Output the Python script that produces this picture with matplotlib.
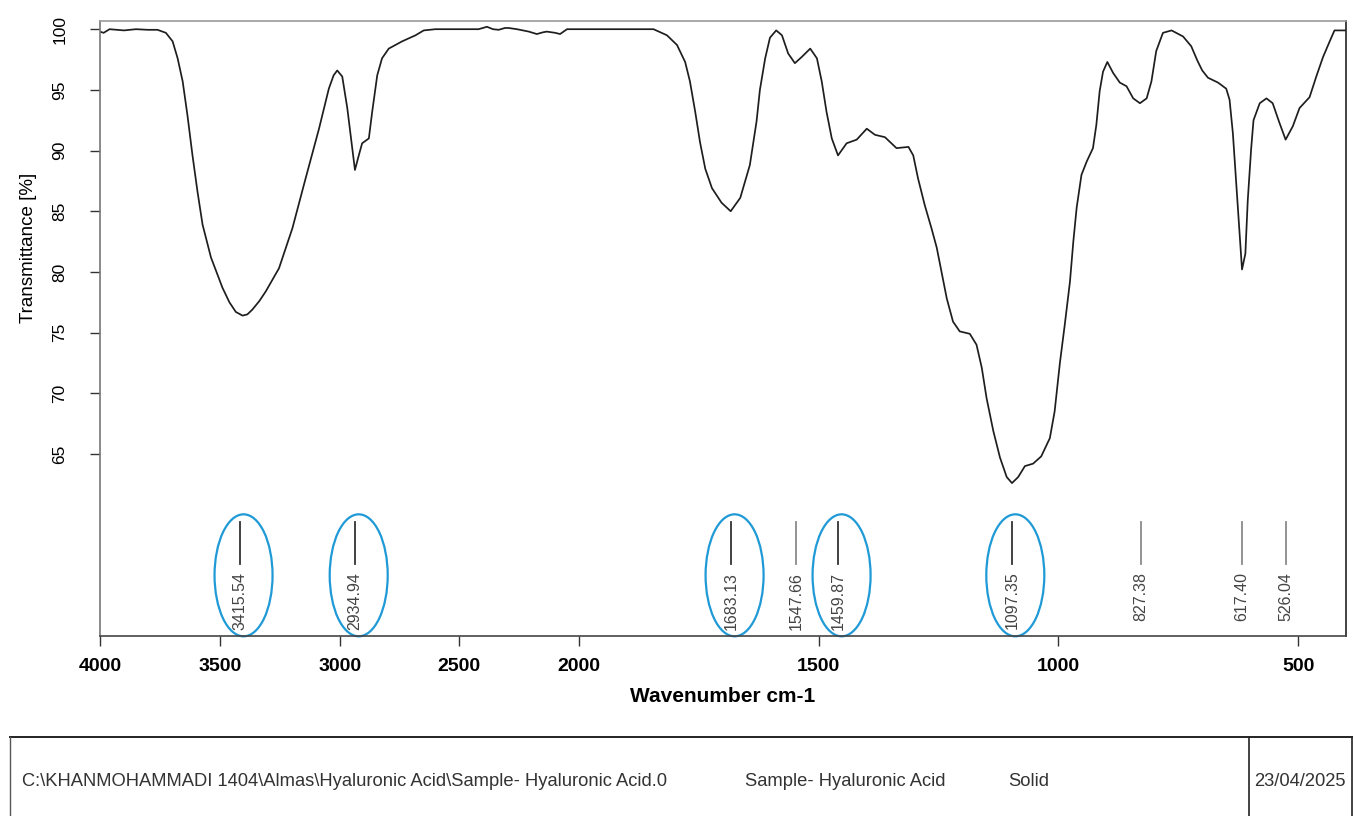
import numpy as np
import matplotlib
matplotlib.use("Agg")
import matplotlib.pyplot as plt
from matplotlib import transforms
from matplotlib.patches import Ellipse
from matplotlib.lines import Line2D

plt.rcParams["font.family"] = ["Liberation Sans", "DejaVu Sans"]

# FTIR spectrum (wavenumber in cm-1, transmittance in %)
wavenumber = [
    4000, 3985, 3960, 3900, 3850, 3800, 3760, 3725, 3697, 3676, 3655, 3635, 3614,
    3593, 3572, 3537, 3510, 3489, 3460, 3433, 3405, 3385, 3364, 3335, 3308, 3253,
    3197, 3142, 3086, 3045, 3025, 3010, 2989, 2968, 2947, 2936, 2920, 2906, 2878,
    2864, 2843, 2823, 2795, 2739, 2683, 2649, 2600, 2500, 2420, 2385, 2360, 2336,
    2310, 2295, 2260, 2210, 2177, 2150, 2135, 2100, 2080, 2051, 2000, 1900, 1845,
    1817, 1796, 1779, 1769, 1758, 1748, 1737, 1723, 1703, 1684, 1664, 1644, 1630,
    1623, 1612, 1602, 1589, 1577, 1564, 1550, 1536, 1518, 1504, 1494, 1484, 1473,
    1460, 1442, 1421, 1400, 1383, 1362, 1338, 1313, 1303, 1293, 1279, 1265, 1254,
    1244, 1233, 1220, 1206, 1185, 1171, 1160, 1150, 1136, 1122, 1108, 1097, 1084,
    1070, 1053, 1036, 1018, 1008, 997, 987, 976, 969, 962, 952, 941, 928, 921, 914,
    907, 898, 886, 872, 858, 844, 830, 816, 806, 796, 782, 764, 740, 723, 710, 700,
    688, 667, 650, 643, 636, 629, 622, 617, 610, 605, 598, 593, 580, 566, 553, 539,
    526, 511, 497, 476, 462, 448, 434, 424, 400,
]
transmittance = [
    99.8, 99.7, 100.0, 99.9, 100.0, 99.95, 99.95, 99.7, 99.0, 97.6, 95.7, 92.9, 89.6,
    86.6, 83.9, 81.2, 79.8, 78.7, 77.5, 76.7, 76.4, 76.5, 76.9, 77.6, 78.4, 80.3,
    83.6, 87.7, 91.8, 95.1, 96.2, 96.6, 96.1, 93.5, 90.2, 88.4, 89.6, 90.6, 91.0,
    93.2, 96.2, 97.6, 98.4, 99.0, 99.5, 99.9, 100.0, 100.0, 100.0, 100.2, 100.0, 99.95,
    100.1, 100.1, 100.0, 99.8, 99.6, 99.75, 99.8, 99.7, 99.6, 100.0, 100.0, 100.0, 100.0,
    99.5, 98.7, 97.3, 95.7, 93.2, 90.7, 88.5, 86.9, 85.7, 85.0, 86.1, 88.8, 92.4,
    95.0, 97.6, 99.3, 99.9, 99.5, 98.0, 97.2, 97.7, 98.4, 97.6, 95.7, 93.2, 91.0,
    89.6, 90.6, 90.9, 91.8, 91.3, 91.1, 90.2, 90.3, 89.6, 87.7, 85.5, 83.6, 82.0,
    80.0, 77.8, 75.9, 75.1, 74.9, 74.0, 72.1, 69.6, 66.9, 64.7, 63.1, 62.6, 63.1,
    64.0, 64.2, 64.8, 66.3, 68.5, 72.5, 75.6, 79.2, 82.5, 85.3, 88.0, 89.1, 90.2, 92.1, 94.9,
    96.5, 97.3, 96.4, 95.6, 95.3, 94.3, 93.9, 94.3, 95.7, 98.2, 99.7, 99.9, 99.4, 98.6, 97.4, 96.6,
    96.0, 95.6, 95.1, 94.2, 91.4, 87.3, 83.2, 80.2, 81.5, 85.9, 90.1, 92.5, 93.9, 94.3, 93.9, 92.3,
    90.9, 92.0, 93.5, 94.4, 96.1, 97.7, 99.0, 99.9, 99.9,
]

# Picked peaks and which ones are highlighted
peak_positions = [3415.54, 2934.94, 1683.13, 1547.66, 1459.87, 1097.35, 827.38, 617.40, 526.04]
peak_labels = ["3415.54", "2934.94", "1683.13", "1547.66", "1459.87", "1097.35", "827.38", "617.40", "526.04"]
highlighted = [True, True, True, False, True, True, False, False, False]

x_ticks = [4000, 3500, 3000, 2500, 2000, 1500, 1000, 500]
y_ticks = [65, 70, 75, 80, 85, 90, 95, 100]

footer_path = "C:\\KHANMOHAMMADI 1404\\Almas\\Hyaluronic Acid\\Sample- Hyaluronic Acid.0"
footer_sample = "Sample- Hyaluronic Acid"
footer_state = "Solid"
footer_date = "23/04/2025"

W, H = 1354, 816
fig = plt.figure(figsize=(W / 100, H / 100), dpi=100)


def fx(px):
    return px / W


def fy(py):
    return 1 - py / H


ax = fig.add_axes([fx(100), fy(636), fx(1346) - fx(100), fy(20.7) - fy(636)])


# Wavenumber axis: the region above 2000 cm-1 is compressed by a factor of two
def fwd(x):
    x = np.asarray(x, dtype=float)
    return np.where(x > 2000, 2000 + (x - 2000) / 2.0, x)


def inv(u):
    u = np.asarray(u, dtype=float)
    return np.where(u > 2000, 2000 + (u - 2000) * 2.0, u)


ax.set_xscale("function", functions=(fwd, inv))
ax.plot(wavenumber, transmittance, color="#1e1e1e", lw=1.25,
        solid_joinstyle="round", solid_capstyle="round")
ax.set_xlim(4000, 400)
ax.set_ylim(50, 100.7)

ax.set_xticks(x_ticks)
ax.set_xticklabels([str(t) for t in x_ticks], fontsize=14, fontweight="bold")
ax.xaxis.set_minor_locator(matplotlib.ticker.NullLocator())
ax.set_yticks(y_ticks)
ax.set_yticklabels([str(t) for t in y_ticks], fontsize=12.5, rotation=90, va="center")
ax.tick_params(axis="x", direction="out", length=7, width=1.0, pad=9, color="#333")
ax.tick_params(axis="y", direction="out", length=7.5, width=1.0, pad=16, color="#333")

ax.spines["top"].set_color("#9a9a9a")
ax.spines["left"].set_color("#777777")
ax.spines["right"].set_color("#222222")
ax.spines["bottom"].set_color("#444444")
for s in ax.spines.values():
    s.set_linewidth(1.2)

fig.text(fx(723), fy(697), "Wavenumber cm-1", fontsize=15, fontweight="bold",
         ha="center", va="center")
fig.text(fx(29), fy(248), "Transmittance [%]", fontsize=13.5, rotation=90,
         ha="center", va="center")

# Peak markers with labels
for pos, lab, hl in zip(peak_positions, peak_labels, highlighted):
    ax.plot([pos, pos], [59.4, 55.9], color="#333333" if hl else "#8a8a8a", lw=1.3)
    ax.text(pos, 55.3, lab, rotation=90, ha="center", va="top", fontsize=11.5,
            color="#444444")
    if hl:
        trans = fig.dpi_scale_trans + transforms.ScaledTranslation(pos, 55.0, ax.transData)
        ax.add_patch(Ellipse((0.035, 0), width=0.58, height=1.22, transform=trans,
                             fill=False, edgecolor="#1f9ad6", lw=1.6, clip_on=False))

# Footer information box
box_color = "#222222"
fig.add_artist(Line2D([fx(10), fx(1352)], [fy(737), fy(737)], transform=fig.transFigure,
                      color=box_color, lw=1.4))
fig.add_artist(Line2D([fx(10), fx(10)], [fy(737), fy(816)], transform=fig.transFigure,
                      color="#555555", lw=1.0))
fig.add_artist(Line2D([fx(1352), fx(1352)], [fy(737), fy(816)], transform=fig.transFigure,
                      color=box_color, lw=1.2))
fig.add_artist(Line2D([fx(1249), fx(1249)], [fy(737), fy(816)], transform=fig.transFigure,
                      color=box_color, lw=1.2))
footer_kw = dict(fontsize=13.2, color="#333333", va="center", ha="left")
fig.text(fx(22), fy(782), footer_path, **footer_kw)
fig.text(fx(745), fy(782), footer_sample, **footer_kw)
fig.text(fx(1008), fy(782), footer_state, **footer_kw)
fig.text(fx(1254), fy(782), footer_date, **footer_kw)

fig.savefig("out.png", dpi=100)
